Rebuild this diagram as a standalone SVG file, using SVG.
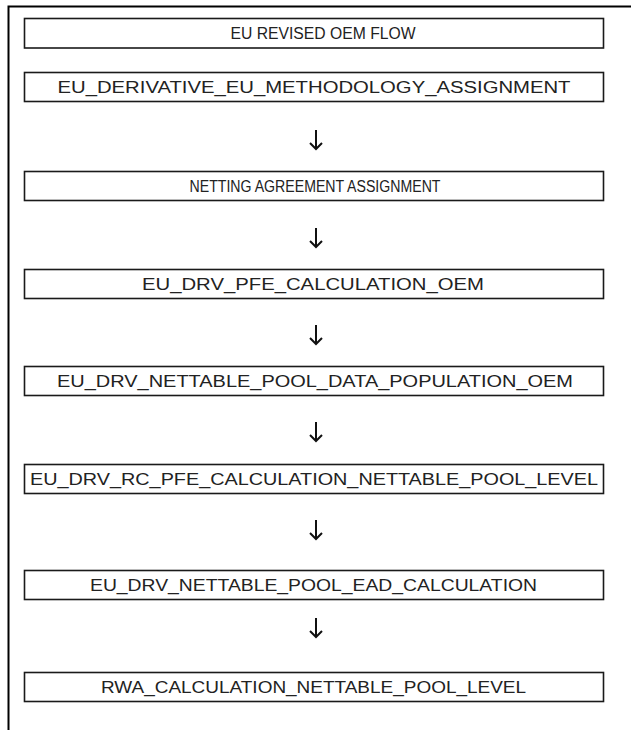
<svg xmlns="http://www.w3.org/2000/svg" width="631" height="730" viewBox="0 0 631 730">
<defs>
<style>
.frame{fill:none;stroke:#000;stroke-width:2}
.box{fill:#fff;stroke:#1a1a1a;stroke-width:1.6}
.lbl{font-family:"Liberation Sans Narrow","Liberation Sans","Open Sans",sans-serif;font-size:16px;fill:#222;text-anchor:middle}
.arr{fill:none;stroke:#111;stroke-width:2}
</style>
<marker id="ah" markerWidth="14" markerHeight="14" refX="7" refY="7" orient="auto" markerUnits="userSpaceOnUse">
<path d="M1,1 L7,7 L1,13" fill="none" stroke="#111" stroke-width="2"/>
</marker>
</defs>
<rect width="631" height="730" fill="#fff"/>
<path class="frame" d="M8.5,730 V6.5 H631"/>
<g id="n1"><rect class="box" x="24.5" y="18.5" width="579" height="29.5"/><text class="lbl" x="323" y="39" textLength="185" lengthAdjust="spacingAndGlyphs">EU REVISED OEM FLOW</text></g>
<g id="n2"><rect class="box" x="24.5" y="72.5" width="579" height="29"/><text class="lbl" x="314" y="93" textLength="513" lengthAdjust="spacingAndGlyphs">EU_DERIVATIVE_EU_METHODOLOGY_ASSIGNMENT</text></g>
<g id="n3"><rect class="box" x="24.5" y="171.5" width="579" height="29"/><text class="lbl" x="315" y="192" textLength="251" lengthAdjust="spacingAndGlyphs">NETTING AGREEMENT ASSIGNMENT</text></g>
<g id="n4"><rect class="box" x="24.5" y="269.5" width="579" height="29"/><text class="lbl" x="313" y="290" textLength="342" lengthAdjust="spacingAndGlyphs">EU_DRV_PFE_CALCULATION_OEM</text></g>
<g id="n5"><rect class="box" x="24.5" y="366.5" width="579" height="29"/><text class="lbl" x="315" y="387" textLength="516" lengthAdjust="spacingAndGlyphs">EU_DRV_NETTABLE_POOL_DATA_POPULATION_OEM</text></g>
<g id="n6"><rect class="box" x="24.5" y="464.5" width="579" height="29"/><text class="lbl" x="314" y="485" textLength="568" lengthAdjust="spacingAndGlyphs">EU_DRV_RC_PFE_CALCULATION_NETTABLE_POOL_LEVEL</text></g>
<g id="n7"><rect class="box" x="24.5" y="570.5" width="579" height="29"/><text class="lbl" x="313.5" y="591" textLength="447" lengthAdjust="spacingAndGlyphs">EU_DRV_NETTABLE_POOL_EAD_CALCULATION</text></g>
<g id="n8"><rect class="box" x="24.5" y="672.5" width="579" height="29"/><text class="lbl" x="313.5" y="693" textLength="425" lengthAdjust="spacingAndGlyphs">RWA_CALCULATION_NETTABLE_POOL_LEVEL</text></g>
<g id="connectors">
<path class="arr" marker-end="url(#ah)" d="M316,130 V149"/>
<path class="arr" marker-end="url(#ah)" d="M316,228 V247"/>
<path class="arr" marker-end="url(#ah)" d="M316,325 V344"/>
<path class="arr" marker-end="url(#ah)" d="M316,422 V441"/>
<path class="arr" marker-end="url(#ah)" d="M316,520 V539"/>
<path class="arr" marker-end="url(#ah)" d="M316,618 V637"/>
</g>
</svg>
